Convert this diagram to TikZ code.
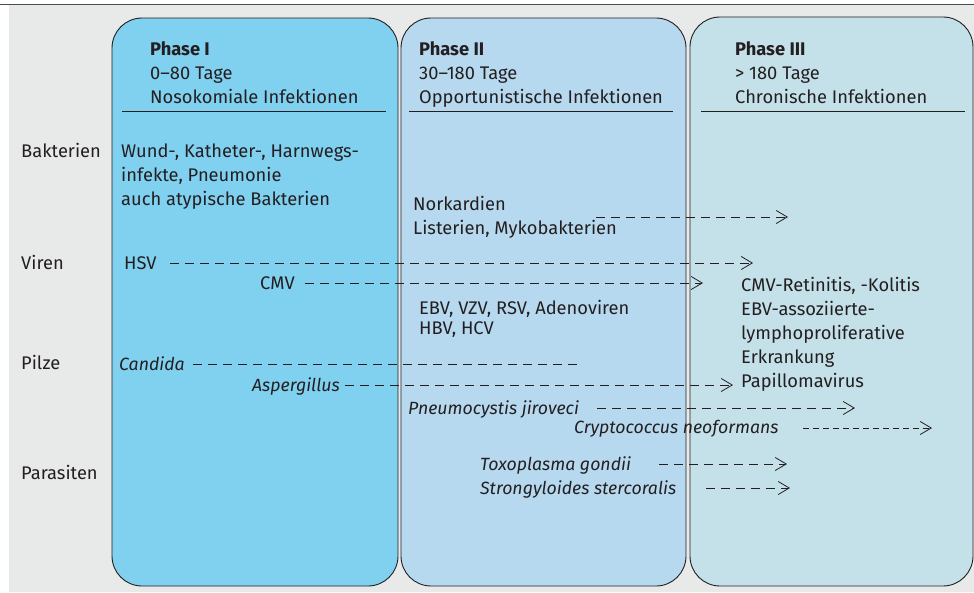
\documentclass[tikz,border=0pt]{standalone}
\usepackage{fontspec}
\setmainfont{Fira Sans}
\usepackage{xcolor}
\usetikzlibrary{arrows.meta}

\definecolor{bggray}{RGB}{232,233,233}
\definecolor{phaseone}{RGB}{128,208,240}
\definecolor{phasetwo}{RGB}{183,217,240}
\definecolor{phasethree}{RGB}{196,225,234}
\definecolor{txtblack}{RGB}{35,31,32}

\begin{document}
\begin{tikzpicture}[x=1pt, y=-1pt, every node/.style={inner sep=0pt, text=txtblack, font=\fontsize{18.3}{24}\selectfont}]
	\useasboundingbox (0,0) rectangle (974,592);
	\fill[bggray] (9,5) rectangle (974,592);
	\draw[line width=1.5pt, black!70] (0,4.5) -- (974,4.5);

	\begin{scope}[line width=0.9pt, draw=txtblack, rounded corners=30pt]
		\draw[fill=phaseone] (112,18) rectangle (398,586);
		\draw[fill=phasetwo] (401,18) rectangle (686,586);
		\draw[fill=phasethree] (690,17) rectangle (973,586);
	\end{scope}

	\draw[line width=0.8pt, txtblack] (122,111) -- (386,111);
	\draw[line width=0.8pt, txtblack] (409,111) -- (673,111);
	\draw[line width=0.8pt, txtblack] (701,111) -- (965,111);

	\begin{scope}[
		rowlabel/.style={anchor=base west},
		txtblock/.style={anchor=north west, align=left},
		spec/.style={anchor=base west, font=\fontsize{17.7}{24}\selectfont\itshape}]
		\node[txtblock] (head1) at (150,41.5) {\textbf{Phase I}\\0--80 Tage\\Nosokomiale Infektionen};
		\node[txtblock] (head2) at (419,41.5) {\textbf{Phase II}\\30--180 Tage\\Opportunistische Infektionen};
		\node[txtblock] (head3) at (735,41.5) {\textbf{Phase III}\\> 180 Tage\\Chronische Infektionen};

		\node[rowlabel] (bakterien) at (21,157) {Bakterien};
		\node[rowlabel] (viren) at (21,269) {Viren};
		\node[rowlabel] (pilze) at (21,369) {Pilze};
		\node[rowlabel] (parasiten) at (21,479) {Parasiten};

		\node[txtblock] (nosok) at (121,143.5) {Wund-, Katheter-, Harnwegs-\\infekte, Pneumonie\\auch atypische Bakterien};
		\node[txtblock] (norkard) at (413,196.5) {Norkardien\\Listerien, Mykobakterien};
		\node[txtblock, font=\fontsize{18.3}{20}\selectfont] (ebv) at (419,300.5) {EBV, VZV, RSV, Adenoviren\\HBV, HCV};
		\node[txtblock] (chron) at (741,277.5) {CMV-Retinitis, -Kolitis\\EBV-assoziierte-\\lymphoproliferative\\Erkrankung\\Papillomavirus};

		\node[rowlabel] (hsv) at (124,269) {HSV};
		\node[rowlabel] (cmv) at (260,289) {CMV};
		\node[spec] (candida) at (119,370) {Candida};
		\node[spec] (asperg) at (252,391) {Aspergillus};
		\node[spec] (pneumo) at (408,414) {Pneumocystis jiroveci};
		\node[spec] (crypto) at (574,433) {Cryptococcus neoformans};
		\node[spec] (toxo) at (480,470) {Toxoplasma gondii};
		\node[spec] (strongy) at (480,494) {Strongyloides stercoralis};
	\end{scope}

	\begin{scope}[dline/.style={line width=0.8pt, draw=txtblack, dash pattern=on 9pt off 6pt, -{Straight Barb[length=11pt, width=13pt]}}]
		\coordinate (bak-s) at (596,217);
		\coordinate (bak-e) at (788,217);
		\coordinate (hsv-s) at (170,263);
		\coordinate (hsv-e) at (753,263);
		\coordinate (cmv-s) at (305,283);
		\coordinate (cmv-e) at (703,283);
		\coordinate (candida-s) at (193,364);
		\coordinate (candida-e) at (577,364);
		\coordinate (asperg-s) at (345,385);
		\coordinate (asperg-e) at (733,385);
		\coordinate (pneumo-s) at (597,408);
		\coordinate (pneumo-e) at (855,408);
		\coordinate (crypto-s) at (803,428);
		\coordinate (crypto-e) at (932,428);
		\coordinate (toxo-s) at (659,464);
		\coordinate (toxo-e) at (787,464);
		\coordinate (strongy-s) at (706,488);
		\coordinate (strongy-e) at (790,488);

		\draw[dline] (bak-s) -- (bak-e);
		\draw[dline] (hsv-s) -- (hsv-e);
		\draw[dline] (cmv-s) -- (cmv-e);
		\draw[dline, -] (candida-s) -- (candida-e);
		\draw[dline] (asperg-s) -- (asperg-e);
		\draw[dline] (pneumo-s) -- (pneumo-e);
		\draw[dline, dash pattern=on 6pt off 4pt] (crypto-s) -- (crypto-e);
		\draw[dline] (toxo-s) -- (toxo-e);
		\draw[dline] (strongy-s) -- (strongy-e);
	\end{scope}
\end{tikzpicture}
\end{document}
